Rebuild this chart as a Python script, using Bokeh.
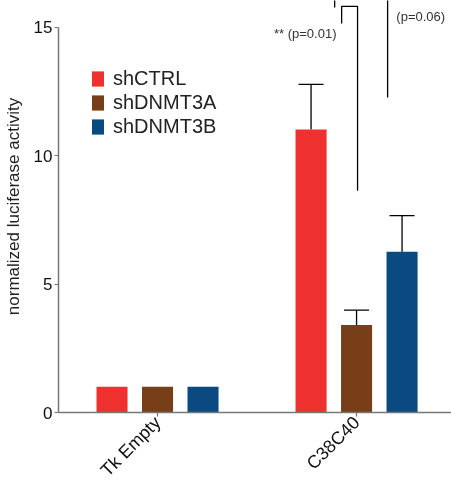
import numpy as np
from bokeh.plotting import figure
from bokeh.models import (FixedTicker, ColumnDataSource, Whisker, Legend, LegendItem,
                          Range1d)
from bokeh.embed import file_html
from bokeh.resources import INLINE
from bokeh.core.properties import value

# ---- data ----
categories = ["Tk Empty", "C38C40"]
series = ["shCTRL", "shDNMT3A", "shDNMT3B"]
colors = ["#EE302E", "#783E17", "#0B4A81"]
values = {
    "shCTRL":   [1.0, 11.02],
    "shDNMT3A": [1.0, 3.41],
    "shDNMT3B": [1.0, 6.26],
}
err_upper = {
    "shCTRL":   [None, 12.78],
    "shDNMT3A": [None, 3.99],
    "shDNMT3B": [None, 7.67],
}
y_ticks = [0, 5, 10, 15]
y_label = "normalized luciferase activity"
sig_labels = ["** (p=0.01)", "(p=0.06)"]

FONT = "Liberation Sans"

p = figure(width=451, height=490, output_backend="svg", toolbar_location=None,
           x_range=Range1d(0.5025, 2.477), y_range=Range1d(0, 16.05),
           min_border_left=58, min_border_top=0, min_border_right=0,
           min_border_bottom=78)
p.styles = {"position": "fixed", "top": "0px", "left": "0px"}
p.outline_line_color = None
p.grid.visible = False
p.background_fill_color = None
p.border_fill_color = None

offsets = [-0.2286, 0.0, 0.2286]
bar_w = 0.156
cat_x = np.arange(1, len(categories) + 1)

legend_items = []
for s, c, off in zip(series, colors, offsets):
    xs = cat_x + off
    src = ColumnDataSource(dict(x=xs, top=values[s]))
    r = p.vbar(x="x", top="top", width=bar_w, source=src, fill_color=c, line_color=None)
    legend_items.append(LegendItem(label=s, renderers=[r]))
    ex, lo, up = [], [], []
    for xi, v, u in zip(xs, values[s], err_upper[s]):
        if u is not None:
            ex.append(xi); lo.append(v); up.append(u)
    esrc = ColumnDataSource(dict(x=ex, lower=lo, upper=up))
    w = Whisker(base="x", lower="lower", upper="upper", source=esrc,
                line_color="black", line_width=1.3, lower_head=None)
    w.upper_head.size = 25
    w.upper_head.line_color = "black"
    w.upper_head.line_width = 1.3
    p.add_layout(w)

# significance brackets
br1_x = [1.925, 1.925, 2.005, 2.005]
br1_y = [15.15, 15.82, 15.82, 8.64]
p.line(br1_x, br1_y, line_color="black", line_width=1.3)
br2_x = [1.89, 1.89, 2.156, 2.156]
br2_y = [15.78, 16.4, 16.4, 12.27]
p.line(br2_x, br2_y, line_color="black", line_width=1.3)
p.text(x=[1.899, 2.2], y=[14.78, 15.42], text=sig_labels,
       text_align=["right", "left"], text_baseline="middle",
       text_font=value(FONT), text_font_size="13px", text_color="#333333")

legend = Legend(items=legend_items, location=(32, 274), padding=0, margin=0,
                border_line_color=None, background_fill_alpha=0,
                glyph_width=15, glyph_height=19, spacing=1, label_height=19,
                label_standoff=8, label_text_font=FONT, label_text_font_size="20px",
                label_text_color="#222222", label_text_baseline="middle")
p.add_layout(legend, "center")

# axes
p.yaxis.ticker = FixedTicker(ticks=y_ticks)
p.yaxis.bounds = (0, 15)
p.yaxis.axis_label = y_label
p.yaxis.axis_label_text_font = FONT
p.yaxis.axis_label_text_font_style = "normal"
p.yaxis.axis_label_text_font_size = "17px"
p.yaxis.axis_label_text_color = "#222222"
p.yaxis.axis_label_standoff = 8
p.yaxis.major_label_text_font = FONT
p.yaxis.major_label_text_font_size = "17px"
p.yaxis.major_label_text_color = "#111111"
p.yaxis.minor_tick_line_color = None
p.yaxis.major_tick_in = 0
p.yaxis.major_tick_out = 4
p.yaxis.major_label_standoff = 2

p.xaxis.ticker = FixedTicker(ticks=list(cat_x))
p.xaxis.major_label_overrides = {int(i): c for i, c in zip(cat_x, categories)}
p.xaxis.major_label_orientation = np.pi / 4
p.xaxis.major_label_text_font = FONT
p.xaxis.major_label_text_font_size = "18px"
p.xaxis.major_label_text_color = "#111111"
p.xaxis.minor_tick_line_color = None
p.xaxis.major_tick_in = 0
p.xaxis.major_tick_out = 4
p.xaxis.major_label_standoff = 3

for ax in (p.xaxis, p.yaxis):
    ax.axis_line_color = "#777777"
    ax.axis_line_width = 1.5
    ax.major_tick_line_color = "#777777"
    ax.major_tick_line_width = 1.2

open("out.html", "w").write(file_html(p, INLINE))
